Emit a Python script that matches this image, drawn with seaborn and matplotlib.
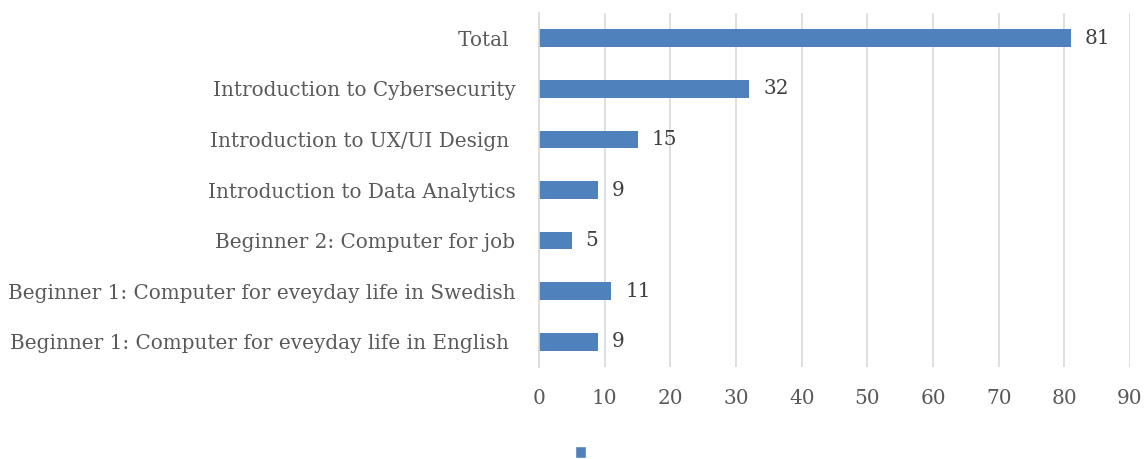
import matplotlib
matplotlib.use("Agg")
import matplotlib.pyplot as plt
import seaborn as sns
import pandas as pd
from matplotlib.patches import Patch

# Data
courses = [
    "Total ",
    "Introduction to Cybersecurity",
    "Introduction to UX/UI Design ",
    "Introduction to Data Analytics",
    "Beginner 2: Computer for job",
    "Beginner 1: Computer for eveyday life in Swedish",
    "Beginner 1: Computer for eveyday life in English ",
]
students = [81, 32, 15, 9, 5, 11, 9]
x_ticks = [0, 10, 20, 30, 40, 50, 60, 70, 80, 90]

df = pd.DataFrame({"course": courses, "students": students})

sns.set_style("white")
plt.rcParams["font.family"] = ["DejaVu Serif"]

bar_color = "#4F81BD"
text_color = "#595959"

fig = plt.figure(figsize=(11.45, 4.59), dpi=100)
ax = fig.add_axes([539 / 1145, 1 - 367 / 459, (1130 - 539) / 1145, (367 - 13) / 459])

sns.barplot(data=df, x="students", y="course", color=bar_color, width=0.35,
            saturation=1, linewidth=0, ax=ax, order=courses)

ax.set_xlim(0, 90)
ax.set_ylim(len(courses) - 0.5, -0.5)
ax.set_xticks(x_ticks)
ax.xaxis.grid(True, color="#D9D9D9", linewidth=1.2)
ax.set_axisbelow(True)
ax.set_xlabel("")
ax.set_ylabel("")
for s in ["top", "right", "bottom"]:
    ax.spines[s].set_visible(False)
ax.spines["left"].set_color("#D9D9D9")
ax.spines["left"].set_linewidth(1.2)
ax.tick_params(axis="both", length=0, labelsize=14.4, colors=text_color)
ax.tick_params(axis="y", pad=17)
ax.tick_params(axis="x", pad=16)

for c in ax.containers:
    ax.bar_label(c, labels=[f"{v:g}" for v in c.datavalues], padding=10,
                 fontsize=14.4, color="#404040")

fig.legend(handles=[Patch(facecolor=bar_color, label=" ")], loc="center",
           bbox_to_anchor=(583 / 1145, 1 - 453 / 459), frameon=False,
           handlelength=0.7, handleheight=0.7, handletextpad=0, fontsize=12)

fig.savefig("out.png", dpi=100)
